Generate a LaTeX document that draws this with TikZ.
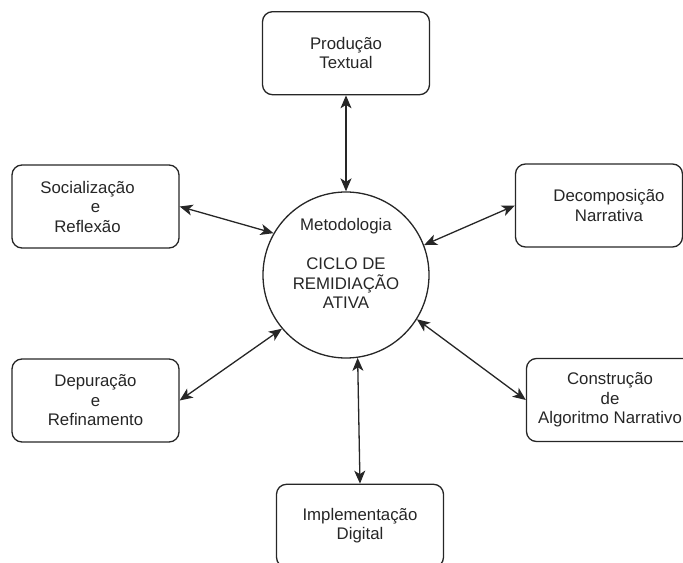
\documentclass[tikz,border=0pt]{standalone}
\usepackage{fontspec}
\setmainfont{Liberation Sans}
\usepackage{tikz}
\usetikzlibrary{positioning, shapes.geometric, arrows.meta}
\usepackage{xcolor}

\begin{document}
\begin{tikzpicture}[
		x=1bp, y=1bp,
		font=\fontsize{16.8bp}{19.5bp}\selectfont,
		every node/.style={text=black!85},
		stage/.style={
			rectangle,
			draw=black!85,
			line width=1.3bp,
			rounded corners=10bp,
			align=center,
			minimum width=167bp,
			minimum height=83bp
		},
		hub/.style={
			circle,
			draw=black!85,
			line width=1.3bp,
			align=center,
			inner sep=0pt,
			minimum size=166bp
		},
		link/.style={
			{Stealth[length=13bp,width=11bp,inset=3.5bp]}-{Stealth[length=13bp,width=11bp,inset=3.5bp]},
			draw=black!85,
			line width=1.3bp
		}
		]
		
		\useasboundingbox (-346,-288) rectangle (337,275);
		
		% --- Centre ---
		\node[hub] (cycle) at (0,0) {
			Metodologia\\[19.5bp]
			CICLO DE\\
			REMIDIAÇÃO\\
			ATIVA\\[3bp]
		};
		
		% --- Top ---
		\node[stage, above=96bp of cycle] (prod) {
			Produção\\
			Textual
		};
		
		% --- Left ---
		\node[stage] (social) at (-250.5,68.5) {
			Socialização\hspace*{16bp}\\
			e\hspace*{16bp}\\
			Reflexão\hspace*{16bp}
		};
		\node[stage] (depur) at (-250.5,-125.5) {
			Depuração\\
			e\\
			Refinamento
		};
		
		% --- Right ---
		\node[stage] (decomp) at (253,69.5) {
			\hspace*{20bp}Decomposição\\
			\hspace*{20bp}Narrativa
		};
		\node[stage] (constr) at (264,-125) {
			Construção\\
			de\\
			Algoritmo Narrativo
		};
		
		% --- Bottom ---
		\node[stage, below=125bp of cycle, xshift=14bp] (impl) {
			Implementação\\
			Digital
		};
		
		% --- Links ---
		\draw[link] (prod.south) -- (cycle.north);
		\draw[link] (social.east) -- (cycle.150);
		\draw[link] (depur.east) -- (cycle.220);
		\draw[link] (cycle.21) -- (decomp.west);
		\draw[link] (cycle.-32) -- (constr.west);
		\draw[link] (cycle.-82) -- (impl.north);
		
	\end{tikzpicture}
\end{document}
